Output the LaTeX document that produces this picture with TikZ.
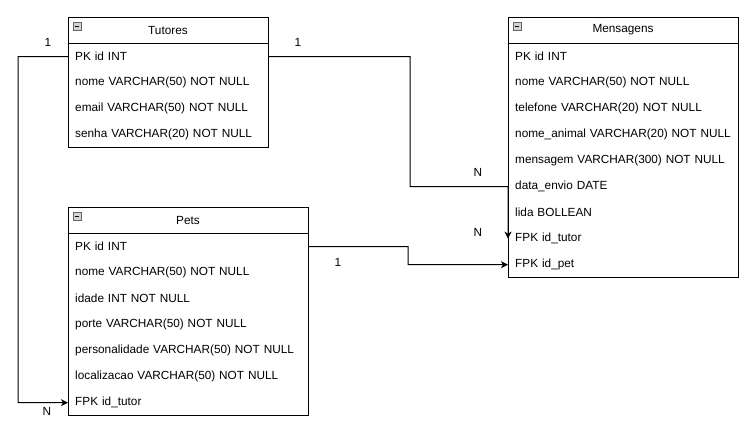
\documentclass[tikz,border=0pt]{standalone}
\usepackage{fontspec}
\setmainfont{Liberation Sans}
\usetikzlibrary{arrows.meta,calc}
\begin{document}
\begin{tikzpicture}[x=1pt,y=-1pt,
  every node/.style={font=\fontsize{11.8}{14}\selectfont},
  tbl/.style={draw=black,line width=1pt,fill=white},
  hdr/.style={draw=none,inner sep=0pt,anchor=center},
  row/.style={draw=none,minimum height=26pt,inner ysep=0pt,inner xsep=7pt,align=left,anchor=north west},
  ico/.style={draw=gray!80!black,fill=gray!35,line width=0.6pt},
  conn/.style={draw=black,line width=1pt},
  arr/.style={conn,-{Stealth[length=7pt,width=7pt,inset=2pt]}},
  card/.style={inner sep=0pt,text=black}
]
\useasboundingbox (0,0) rectangle (756,431);
% ---------- Tutores ----------
\draw[tbl] (68,17) rectangle (268,147);
\draw[line width=1pt] (68,43) -- (268,43);
\draw[ico] (73,22) rectangle (81,30);
\draw[line width=0.8pt] (75,26) -- (79,26);
\node[hdr] (tutT) at (168,30) {Tutores};
\foreach \n/\t [count=\i from 0] in {tutPK/PK id INT,tutNome/nome VARCHAR(50) NOT NULL,tutEmail/email VARCHAR(50) NOT NULL,tutSenha/senha VARCHAR(20) NOT NULL}
  \node[row,text width=186pt] (\n) at (68,43.5+26*\i) {\mbox{\t}};
% ---------- Mensagens ----------
\draw[tbl] (508,17) rectangle (738,277);
\draw[line width=1pt] (508,43) -- (738,43);
\draw[ico] (513,22) rectangle (521,30);
\draw[line width=0.8pt] (515,26) -- (519,26);
\node[hdr] (msgT) at (623,30) {Mensagens};
\foreach \n/\t [count=\i from 0] in {msgPK/PK id INT,msgNome/nome VARCHAR(50) NOT NULL,msgTel/telefone VARCHAR(20) NOT NULL,msgAnimal/nome\_animal VARCHAR(20) NOT NULL,msgMsg/mensagem VARCHAR(300) NOT NULL,msgData/data\_envio DATE,msgLida/lida BOLLEAN,msgFKt/FPK id\_tutor,msgFKp/FPK id\_pet}
  \node[row,text width=216pt] (\n) at (508,43.5+26*\i) {\mbox{\t}};
% ---------- Pets ----------
\draw[tbl] (68,207) rectangle (308,415);
\draw[line width=1pt] (68,233) -- (308,233);
\draw[ico] (73,212) rectangle (81,220);
\draw[line width=0.8pt] (75,216) -- (79,216);
\node[hdr] (petT) at (188,220) {Pets};
\foreach \n/\t [count=\i from 0] in {petPK/PK id INT,petNome/nome VARCHAR(50) NOT NULL,petIdade/idade INT NOT NULL,petPorte/porte VARCHAR(50) NOT NULL,petPers/personalidade VARCHAR(50) NOT NULL,petLoc/localizacao VARCHAR(50) NOT NULL,petFK/FPK id\_tutor}
  \node[row,text width=226pt] (\n) at (68,233.5+26*\i) {\mbox{\t}};
% ---------- connectors ----------
\draw[arr] (tutPK.west) -- (18,56.5) |- (petFK.west);
\draw[arr] (tutPK.east) -- (410,56.5) |- (msgData.west) -- (msgFKt.west);
\draw[arr] (petPK.east) -- (408,246.5) |- (msgFKp.west);
% ---------- cardinalities ----------
\node[card] (c1) at (48,42) {1};
\node[card] (c2) at (47,411) {N};
\node[card] (c3) at (298,42) {1};
\node[card] (c4) at (478,172) {N};
\node[card] (c5) at (478,232) {N};
\node[card] (c6) at (338,262) {1};
\end{tikzpicture}
\end{document}
